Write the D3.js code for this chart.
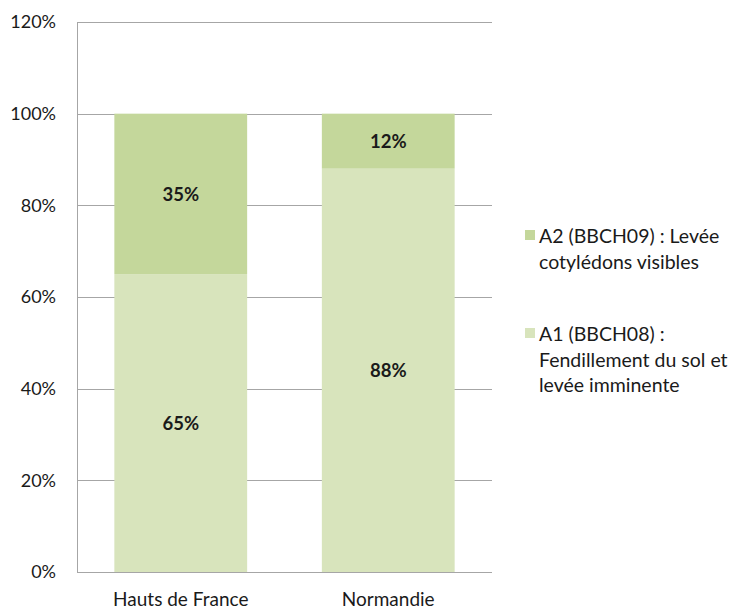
<!DOCTYPE html>
<html><head><meta charset="utf-8">
<script src="https://cdn.jsdelivr.net/npm/d3@7"></script>
<style>body{margin:0;background:#fff}svg{display:block}text{font-family:Lato,"Open Sans",sans-serif;fill:#1a1a1a}</style>
</head><body>
<svg id="c" width="736" height="609"></svg>
<script>
const categories = ["Hauts de France", "Normandie"];
const seriesA1 = [0.65, 0.88];
const seriesA2 = [0.35, 0.12];
const seriesNames = ["A1 (BBCH08) :|Fendillement du sol et|levée imminente", "A2 (BBCH09) : Levée|cotylédons visibles"];
const tickValues = [0, 0.2, 0.4, 0.6, 0.8, 1.0, 1.2];
const colors = ["#d8e4bc", "#c4d79b"];

const svg = d3.select("#c");
const pL = 77, pR = 492, pT = 22, pB = 572;
const x = d3.scaleBand().domain(categories).range([pL, pR]);
const y = d3.scaleLinear().domain([0, 1.2]).range([pB, pT]);
const barW = x.bandwidth() * 0.64;

// gridlines
svg.append("g").selectAll("line").data(tickValues.filter(d => d > 0)).join("line")
  .attr("x1", pL).attr("x2", pR).attr("y1", d => Math.round(y(d)) + 0.5).attr("y2", d => Math.round(y(d)) + 0.5)
  .attr("stroke", "#a6a6a6").attr("stroke-width", 1);

const series = [seriesA1, seriesA2];
const stacked = categories.map((c, i) => {
  let base = 0;
  return series.map((s, k) => { const r = {cat: c, k, y0: base, y1: base + s[i], v: s[i]}; base += s[i]; return r; });
}).flat();

svg.append("g").selectAll("rect").data(stacked).join("rect")
  .attr("x", d => x(d.cat) + (x.bandwidth() - barW) / 2)
  .attr("width", barW)
  .attr("y", d => y(d.y1)).attr("height", d => y(d.y0) - y(d.y1))
  .attr("fill", d => colors[d.k]);

svg.append("g").selectAll("text").data(stacked).join("text")
  .attr("x", d => x(d.cat) + x.bandwidth() / 2)
  .attr("y", d => (y(d.y0) + y(d.y1)) / 2)
  .attr("dy", "0.36em").attr("text-anchor", "middle")
  .attr("font-weight", "bold").attr("font-size", 18.5)
  .text(d => Math.round(d.v * 100) + "%");

// axes
svg.append("line").attr("x1", pL + 0.5).attr("x2", pL + 0.5).attr("y1", pT).attr("y2", pB)
  .attr("stroke", "#a6a6a6");
svg.append("line").attr("x1", pL).attr("x2", pR).attr("y1", pB + 0.5).attr("y2", pB + 0.5)
  .attr("stroke", "#a6a6a6");

const yAxis = d3.axisLeft(y).tickValues(tickValues).tickFormat(d3.format(".0%")).tickSize(0).tickPadding(21);
const gy = svg.append("g").attr("transform", `translate(${pL},0)`).call(yAxis);
gy.select(".domain").remove();
gy.selectAll("text").attr("font-size", 18).style("font-family", "Lato").attr("fill", "#1a1a1a");

const xAxis = d3.axisBottom(x).tickSize(0).tickPadding(21);
const gx = svg.append("g").attr("transform", `translate(0,${pB})`).call(xAxis);
gx.select(".domain").remove();
gx.selectAll("text").attr("font-size", 19).style("font-family", "Lato").attr("fill", "#1a1a1a");

// legend (A2 first)
const legend = [{name: seriesNames[1], color: colors[1], yb: 243}, {name: seriesNames[0], color: colors[0], yb: 341}];
const lg = svg.append("g").selectAll("g").data(legend).join("g");
lg.append("rect").attr("x", 525).attr("y", d => d.yb - 13).attr("width", 10).attr("height", 10).attr("fill", d => d.color);
lg.append("text").attr("font-size", 19.5).each(function(d) {
  const t = d3.select(this);
  d.name.split("|").forEach((line, i) => {
    t.append("tspan").attr("x", 539).attr("y", d.yb + i * 25.5).text(line);
  });
});
</script>
</body></html>
